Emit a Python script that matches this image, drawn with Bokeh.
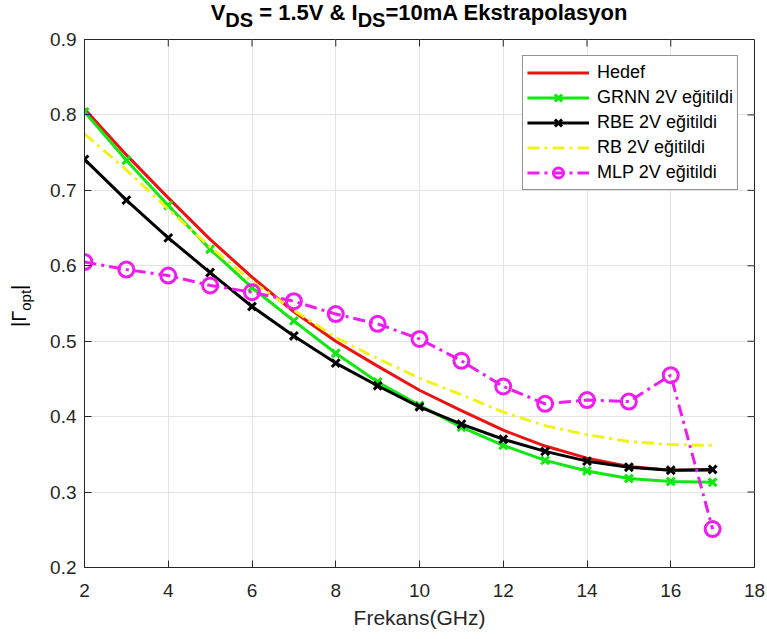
from bokeh.plotting import figure
from bokeh.models import Range1d, Legend, LegendItem, FixedTicker, Div
from bokeh.layouts import column, row
from bokeh.embed import file_html
from bokeh.resources import INLINE

# ---- data ----
freq = [2, 3, 4, 5, 6, 7, 8, 9, 10, 11, 12, 13, 14, 15, 16, 17]
hedef = [0.808, 0.747, 0.690, 0.635, 0.585, 0.539, 0.500, 0.467, 0.435, 0.408, 0.382, 0.361, 0.345, 0.334, 0.329, 0.329]
grnn = [0.804, 0.740, 0.680, 0.622, 0.571, 0.527, 0.484, 0.446, 0.415, 0.386, 0.362, 0.342, 0.328, 0.318, 0.314, 0.313]
rbe = [0.741, 0.687, 0.637, 0.591, 0.546, 0.507, 0.471, 0.441, 0.413, 0.390, 0.370, 0.354, 0.341, 0.333, 0.329, 0.330]
rb = [0.775, 0.727, 0.675, 0.625, 0.579, 0.541, 0.505, 0.477, 0.451, 0.429, 0.406, 0.388, 0.376, 0.367, 0.363, 0.362]
mlp = [0.605, 0.595, 0.587, 0.574, 0.565, 0.553, 0.536, 0.523, 0.503, 0.474, 0.440, 0.417, 0.422, 0.420, 0.455, 0.251]

series_labels = ["Hedef", "GRNN 2V eğitildi", "RBE 2V eğitildi", "RB 2V eğitildi", "MLP 2V eğitildi"]
x_ticks = [2, 4, 6, 8, 10, 12, 14, 16, 18]
y_ticks = [0.2, 0.3, 0.4, 0.5, 0.6, 0.7, 0.8, 0.9]
x_label = "Frekans(GHz)"

# ---- layout ----
TOTAL_W, TOTAL_H = 765, 637
TITLE_H = 28
YLAB_W = 40
W, H = TOTAL_W - YLAB_W, TOTAL_H - TITLE_H
BL, BR, BT, BB = 44, 11, 11, 70
FONT = "Liberation Sans"
AX = "#262626"

p = figure(width=W, height=H, output_backend="svg", toolbar_location=None,
           x_range=Range1d(2, 18), y_range=Range1d(0.2, 0.9),
           min_border_left=BL, min_border_right=BR, min_border_top=BT, min_border_bottom=BB)
p.background_fill_color = "white"
p.border_fill_color = "white"
p.outline_line_color = AX
p.outline_line_width = 1

for ax in (p.xaxis[0], p.yaxis[0]):
    ax.axis_line_color = AX
    ax.major_tick_line_color = AX
    ax.major_tick_in = 7
    ax.major_tick_out = 0
    ax.minor_tick_in = 0
    ax.minor_tick_out = 0
    ax.major_label_text_font = FONT
    ax.major_label_text_font_size = "19px"
    ax.major_label_text_color = AX
p.xaxis.ticker = FixedTicker(ticks=x_ticks)
p.yaxis.ticker = FixedTicker(ticks=y_ticks)
p.xaxis.major_label_standoff = 16
p.yaxis.major_label_standoff = 8
p.xaxis.axis_label = x_label
p.xaxis.axis_label_text_font = FONT
p.xaxis.axis_label_text_font_size = "21px"
p.xaxis.axis_label_text_font_style = "normal"
p.xaxis.axis_label_text_color = AX
p.xaxis.axis_label_standoff = 6

p.xgrid.grid_line_color = "#e3e3e3"
p.ygrid.grid_line_color = "#e3e3e3"

# mirrored inward ticks on the top and right edges of the box
fw = W - BL - BR
fh = H - BT - BB
tdx = 7 * (18 - 2) / fw
tdy = 7 * (0.9 - 0.2) / fh
xt_in = x_ticks[1:-1]
yt_in = y_ticks[1:-1]
p.segment(x0=xt_in, x1=xt_in, y0=[0.9] * len(xt_in), y1=[0.9 - tdy] * len(xt_in), line_color=AX, line_width=1)
p.segment(x0=[18] * len(yt_in), x1=[18 - tdx] * len(yt_in), y0=yt_in, y1=yt_in, line_color=AX, line_width=1)

# ---- series ----
RED, GREEN, BLACK, YELLOW, MAG = "#ee1111", "#11e811", "#000000", "#f2f21a", "#f01cf0"
DD = "12 5 3 5"

r_h = p.line(freq, hedef, line_color=RED, line_width=3)
r_g = p.line(freq, grnn, line_color=GREEN, line_width=3)
m_g = p.scatter(freq, grnn, marker="x", size=11, line_color=GREEN, line_width=3)
r_k = p.line(freq, rbe, line_color=BLACK, line_width=3)
m_k = p.scatter(freq, rbe, marker="x", size=11, line_color=BLACK, line_width=3)
r_y = p.line(freq, rb, line_color=YELLOW, line_width=3, line_dash=DD)
r_m = p.line(freq, mlp, line_color=MAG, line_width=3, line_dash=DD)
m_m = p.scatter(freq, mlp, marker="circle", size=15, line_color=MAG, line_width=3, fill_color=None)

legend = Legend(items=[
    LegendItem(label=series_labels[0], renderers=[r_h]),
    LegendItem(label=series_labels[1], renderers=[r_g, m_g]),
    LegendItem(label=series_labels[2], renderers=[r_k, m_k]),
    LegendItem(label=series_labels[3], renderers=[r_y]),
    LegendItem(label=series_labels[4], renderers=[r_m, m_m]),
], location="top_right")
legend.glyph_width = 62
legend.glyph_height = 25
legend.label_height = 25
legend.label_width = 135
legend.label_standoff = 8
legend.padding = 4
legend.spacing = 0
legend.margin = 16
legend.border_line_color = AX
legend.border_line_width = 1
legend.background_fill_color = "white"
legend.background_fill_alpha = 1
legend.label_text_font = FONT
legend.label_text_font_size = "18px"
legend.label_text_color = "#000000"
p.add_layout(legend)

# ---- title with subscripts (HTML text) ----
sub_t = '<span style="font-size:20px;position:relative;top:7px;">DS</span>'
title_html = (
    f'<div style="width:{fw}px;margin-left:{YLAB_W + BL}px;padding-top:2px;text-align:center;'
    f'white-space:nowrap;font-family:\'{FONT}\';font-size:22px;line-height:22px;font-weight:bold;color:#000;">'
    f'V{sub_t} = 1.5V &amp; I{sub_t}=10mA Ekstrapolasyon</div>'
)
title_div = Div(text=title_html, width=TOTAL_W, height=TITLE_H, margin=0)

# ---- y label |Γ_opt| rotated (HTML text) ----
ylab_html = (
    f'<div style="width:max-content;white-space:nowrap;font-family:\'{FONT}\';font-size:20px;'
    f'line-height:20px;color:#000;transform-origin:0 0;'
    f'transform:translate(9px,{327 - TITLE_H}px) rotate(-90deg);">'
    f'|Γ<span style="font-size:15px;position:relative;top:5px;">opt</span>|</div>'
)
ylab_div = Div(text=ylab_html, width=YLAB_W, height=H, margin=0)

layout = column(title_div, row(ylab_div, p, spacing=0), spacing=0)

open("out.html", "w").write(file_html(layout, INLINE))
